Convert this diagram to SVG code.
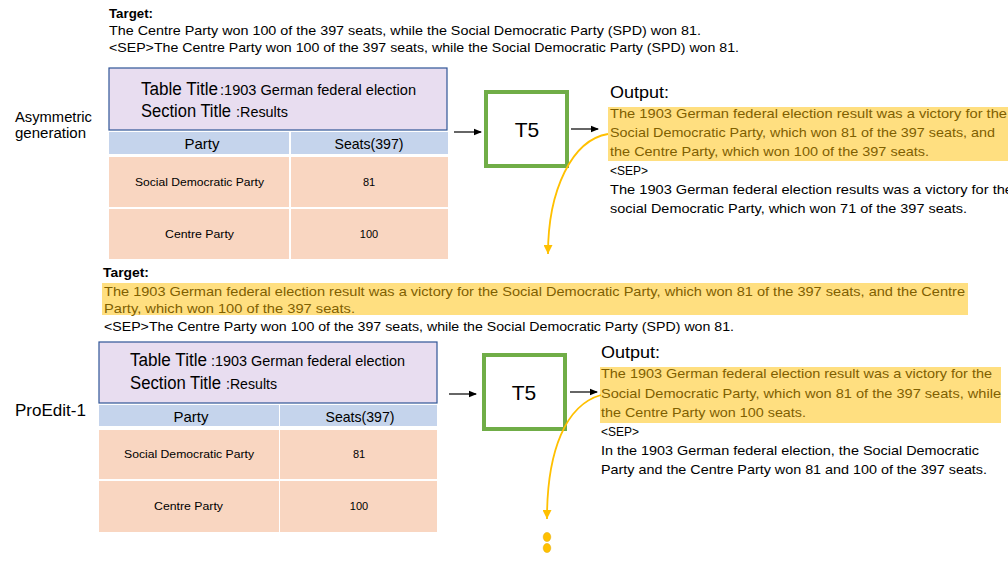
<svg xmlns="http://www.w3.org/2000/svg" width="1008" height="567" viewBox="0 0 1008 567">
<style>
text{font-family:"Liberation Sans",Arial,sans-serif;fill:#000}
.t{font-size:13px}
.b{font-size:13px;font-weight:bold}
.hl{fill:#7F6000}
.big{font-size:18px}
.sm{font-size:14px}
.hd{font-size:15px}
.cell{font-size:11px}
.out{font-size:16px}
.tt{fill:#E8DDF0;stroke:#2F5597;stroke-width:1.2}
.hdr{fill:#C5D4EC}
.row{fill:#F9D6C1}
.yel{fill:#FFDF80}
.t5{fill:#fff;stroke:#70AD47;stroke-width:4}
.ar{stroke:#000;stroke-width:1.2;fill:none}
.ya{stroke:#FFC000;stroke-width:1.8;fill:none}
</style>
<defs>
<marker id="ah" markerWidth="8" markerHeight="8" refX="7" refY="4" orient="auto" markerUnits="userSpaceOnUse">
<path d="M0,0.8 L8,4 L0,7.2 Z" fill="#000"/>
</marker>
<marker id="yh2" markerWidth="10" markerHeight="9" refX="9" refY="4.5" orient="auto" markerUnits="userSpaceOnUse">
<path d="M0,0 L9,4.5 L0,9 Z" fill="#FFC000"/>
</marker>
</defs>

<g id="top-target">
<text class="b" x="109" y="18" textLength="44" lengthAdjust="spacingAndGlyphs">Target:</text>
<text class="t" x="109" y="35" textLength="592" lengthAdjust="spacingAndGlyphs">The Centre Party won 100 of the 397 seats, while the Social Democratic Party (SPD) won 81.</text>
<text class="t" x="109" y="52" textLength="630" lengthAdjust="spacingAndGlyphs">&lt;SEP&gt;The Centre Party won 100 of the 397 seats, while the Social Democratic Party (SPD) won 81.</text>
</g>

<g id="label-asym">
<text x="15" y="122" textLength="77" lengthAdjust="spacingAndGlyphs" style="font-size:14px">Asymmetric</text>
<text x="15" y="138" textLength="71" lengthAdjust="spacingAndGlyphs" style="font-size:14px">generation</text>
</g>

<g id="table1">
<rect class="tt" x="109" y="68" width="338" height="62"/>
<text class="big" x="141" y="95" textLength="77" lengthAdjust="spacingAndGlyphs">Table Title</text>
<text class="sm" x="220" y="95" textLength="196" lengthAdjust="spacingAndGlyphs">:1903 German federal election</text>
<text class="big" x="141" y="117" textLength="90" lengthAdjust="spacingAndGlyphs">Section Title</text>
<text class="sm" x="236" y="117" textLength="52" lengthAdjust="spacingAndGlyphs">:Results</text>
<rect class="hdr" x="109" y="132" width="180" height="22"/>
<rect class="hdr" x="291" y="132" width="157" height="22"/>
<rect class="row" x="109" y="157" width="180" height="50"/>
<rect class="row" x="291" y="157" width="157" height="50"/>
<rect class="row" x="109" y="209" width="180" height="50"/>
<rect class="row" x="291" y="209" width="157" height="50"/>
<text class="hd" x="202" y="149" text-anchor="middle">Party</text>
<text class="hd" x="369" y="149" text-anchor="middle" textLength="69" lengthAdjust="spacingAndGlyphs">Seats(397)</text>
<text class="cell" x="135" y="186" textLength="129" lengthAdjust="spacingAndGlyphs">Social Democratic Party</text>
<text class="cell" x="369" y="186" text-anchor="middle">81</text>
<text class="cell" x="165" y="238" textLength="69" lengthAdjust="spacingAndGlyphs">Centre  Party</text>
<text class="cell" x="369" y="238" text-anchor="middle">100</text>
</g>

<g id="t5-1">
<rect class="t5" x="486" y="92" width="81" height="74"/>
<text x="527" y="137" text-anchor="middle" style="font-size:21px">T5</text>
</g>

<g id="output1">
<text class="out" x="610" y="98" textLength="59" lengthAdjust="spacingAndGlyphs">Output:</text>
<rect class="yel" x="608" y="107" width="400" height="54"/>
<text class="t hl" x="610" y="118" textLength="397" lengthAdjust="spacingAndGlyphs">The 1903 German federal election result was a victory for the</text>
<text class="t hl" x="610" y="137" textLength="385" lengthAdjust="spacingAndGlyphs">Social Democratic Party, which won 81 of the 397 seats, and</text>
<text class="t hl" x="610" y="156" textLength="319" lengthAdjust="spacingAndGlyphs">the Centre Party, which won 100 of the 397 seats.</text>
<text class="t" x="610" y="175" textLength="38" lengthAdjust="spacingAndGlyphs">&lt;SEP&gt;</text>
<text class="t" x="610" y="194" textLength="403" lengthAdjust="spacingAndGlyphs">The 1903 German federal election results was a victory for the</text>
<text class="t" x="610" y="213" textLength="357" lengthAdjust="spacingAndGlyphs">social Democratic Party, which won 71 of the 397 seats.</text>
</g>

<g id="mid-target">
<text class="b" x="103" y="277" textLength="46" lengthAdjust="spacingAndGlyphs">Target:</text>
<rect class="yel" x="102" y="283" width="866" height="32"/>
<text class="t hl" x="104" y="296" textLength="861" lengthAdjust="spacingAndGlyphs">The 1903 German federal election result was a victory for the Social Democratic Party, which won 81 of the 397 seats, and the Centre</text>
<text class="t hl" x="104" y="313" textLength="251" lengthAdjust="spacingAndGlyphs">Party, which won 100 of the 397 seats.</text>
<text class="t" x="104" y="331" textLength="630" lengthAdjust="spacingAndGlyphs">&lt;SEP&gt;The Centre Party won 100 of the 397 seats, while the Social Democratic Party (SPD) won 81.</text>
</g>

<g id="label-proedit">
<text x="15" y="416" style="font-size:17px" textLength="71" lengthAdjust="spacingAndGlyphs">ProEdit-1</text>
</g>

<g id="table2">
<rect class="tt" x="99" y="342" width="338" height="61"/>
<text class="big" x="130" y="366" textLength="77" lengthAdjust="spacingAndGlyphs">Table Title</text>
<text class="sm" x="211" y="366" textLength="194" lengthAdjust="spacingAndGlyphs">:1903 German federal election</text>
<text class="big" x="130" y="389" textLength="91" lengthAdjust="spacingAndGlyphs">Section Title</text>
<text class="sm" x="226" y="389" textLength="51" lengthAdjust="spacingAndGlyphs">:Results</text>
<rect class="hdr" x="99" y="405" width="180" height="21"/>
<rect class="hdr" x="280" y="405" width="157" height="21"/>
<rect class="row" x="99" y="430" width="180" height="49"/>
<rect class="row" x="280" y="430" width="157" height="49"/>
<rect class="row" x="99" y="481" width="180" height="51"/>
<rect class="row" x="280" y="481" width="157" height="51"/>
<text class="hd" x="191" y="422" text-anchor="middle">Party</text>
<text class="hd" x="360" y="422" text-anchor="middle" textLength="69" lengthAdjust="spacingAndGlyphs">Seats(397)</text>
<text class="cell" x="124" y="458" textLength="130" lengthAdjust="spacingAndGlyphs">Social Democratic Party</text>
<text class="cell" x="359" y="458" text-anchor="middle">81</text>
<text class="cell" x="154" y="510" textLength="69" lengthAdjust="spacingAndGlyphs">Centre  Party</text>
<text class="cell" x="359" y="510" text-anchor="middle">100</text>
</g>

<g id="t5-2">
<rect class="t5" x="484" y="355" width="81" height="74"/>
<text x="524" y="400" text-anchor="middle" style="font-size:21px">T5</text>
</g>

<g id="output2">
<text class="out" x="601" y="358" textLength="59" lengthAdjust="spacingAndGlyphs">Output:</text>
<rect class="yel" x="600" y="367" width="401" height="56"/>
<text class="t hl" x="601" y="378" textLength="391" lengthAdjust="spacingAndGlyphs">The 1903 German federal election result was a victory for the</text>
<text class="t hl" x="601" y="398" textLength="400" lengthAdjust="spacingAndGlyphs">Social Democratic Party, which won 81 of the 397 seats, while</text>
<text class="t hl" x="601" y="417" textLength="205" lengthAdjust="spacingAndGlyphs">the Centre Party won 100 seats.</text>
<text class="t" x="601" y="436" textLength="38" lengthAdjust="spacingAndGlyphs">&lt;SEP&gt;</text>
<text class="t" x="601" y="455" textLength="378" lengthAdjust="spacingAndGlyphs">In the 1903 German federal election, the Social Democratic</text>
<text class="t" x="601" y="474" textLength="386" lengthAdjust="spacingAndGlyphs">Party and the Centre Party won 81 and 100 of the 397 seats.</text>
</g>

<g id="connectors">
<line class="ar" x1="454" y1="132" x2="481" y2="132" marker-end="url(#ah)"/>
<line class="ar" x1="571" y1="129" x2="598" y2="129" marker-end="url(#ah)"/>
<line class="ar" x1="449" y1="394" x2="476" y2="394" marker-end="url(#ah)"/>
<line class="ar" x1="570" y1="392" x2="597" y2="392" marker-end="url(#ah)"/>
<path class="ya" d="M608,134 C572,140 548,190 548,254" marker-end="url(#yh2)"/>
<path class="ya" d="M601,395 C566,405 547,450 547,519" marker-end="url(#yh2)"/>
<ellipse cx="547" cy="537" rx="3.8" ry="4.6" fill="#FFC000" stroke="#E0A800" stroke-width="0.5"/>
<ellipse cx="547" cy="548" rx="3.8" ry="4.6" fill="#FFC000" stroke="#E0A800" stroke-width="0.5"/>
</g>
</svg>
